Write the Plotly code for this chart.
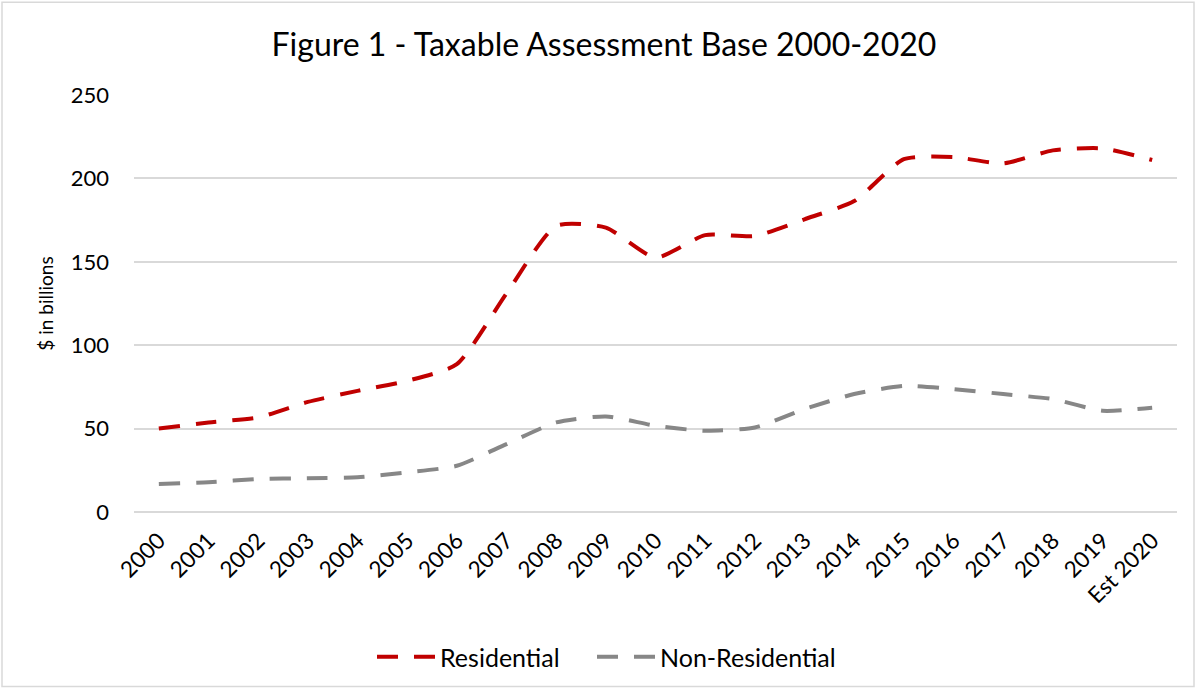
import plotly.graph_objects as go

categories = ["2000", "2001", "2002", "2003", "2004", "2005", "2006", "2007", "2008", "2009",
              "2010", "2011", "2012", "2013", "2014", "2015", "2016", "2017", "2018", "2019", "Est 2020"]
residential = [50, 53.7, 56.7, 66, 72.6, 78.6, 88.6, 131, 171.5, 170.5,
               152.5, 166, 165.5, 175.5, 186.4, 211.5, 212.8, 209, 216.8, 218, 211]
non_residential = [16.8, 17.8, 19.8, 20.2, 20.8, 23.8, 27.7, 40.7, 53.7, 57.3,
                   51.7, 48.7, 50.7, 61.7, 70.7, 75.6, 73.7, 70.7, 67.7, 60.7, 62.5]
y_ticks = [0, 50, 100, 150, 200, 250]

FONT = "Lato"

fig = go.Figure()
fig.add_trace(go.Scatter(x=categories, y=residential, name="Residential", mode="lines", legend="legend",
                         line=dict(color="#C00000", width=4, dash="21px,16px", shape="spline", smoothing=0.6)))
fig.add_trace(go.Scatter(x=categories, y=non_residential, name="Non-Residential", mode="lines", legend="legend2",
                         line=dict(color="#878787", width=4, dash="21px,16px", shape="spline", smoothing=0.6)))

L, R, T, B = 134, 19, 95, 177
W, H = 1196, 690
pw, ph = W - L - R, H - T - B

def px_x(px):
    return (px - L) / pw

def px_y(py):
    return (H - B - py) / ph

legend_common = dict(orientation="h", xanchor="left", y=px_y(657), yanchor="middle",
                     font=dict(size=25, family=FONT, color="#000000"), itemwidth=58,
                     bgcolor="rgba(0,0,0,0)")

fig.update_layout(
    width=W, height=H,
    margin=dict(l=L, r=R, t=T, b=B),
    paper_bgcolor="white", plot_bgcolor="white",
    font=dict(family=FONT, color="#000000", size=22),
    title=dict(text="Figure 1 - Taxable Assessment Base 2000-2020", x=0.505, xanchor="center",
               y=1 - 45 / H, yanchor="middle", font=dict(size=32, family=FONT, color="#000000")),
    xaxis=dict(type="category", range=[-0.5, 20.5], showgrid=False, showline=False, zeroline=False,
               tickangle=-45, tickfont=dict(size=22.5), ticks="", ticklabelstandoff=10),
    yaxis=dict(range=[0, 250], tickvals=y_ticks, showgrid=True, gridcolor="#D9D9D9", gridwidth=1.5,
               zeroline=True, zerolinecolor="#D9D9D9", zerolinewidth=1.5, showline=False,
               tickfont=dict(size=22), ticklabelstandoff=24,
               title=dict(text="$ in billions", font=dict(size=19), standoff=12)),
    legend=dict(x=px_x(372), **legend_common),
    legend2=dict(x=px_x(592), **legend_common),
    showlegend=True,
    shapes=[dict(type="rect", xref="paper", yref="paper",
                 x0=px_x(2), x1=px_x(1194), y0=px_y(688), y1=px_y(2),
                 line=dict(color="#D9D9D9", width=1.5), fillcolor="rgba(0,0,0,0)", layer="below")],
)

fig.write_html("out.html", config={"displayModeBar": False},
               post_script="document.body.style.margin='0px';")
